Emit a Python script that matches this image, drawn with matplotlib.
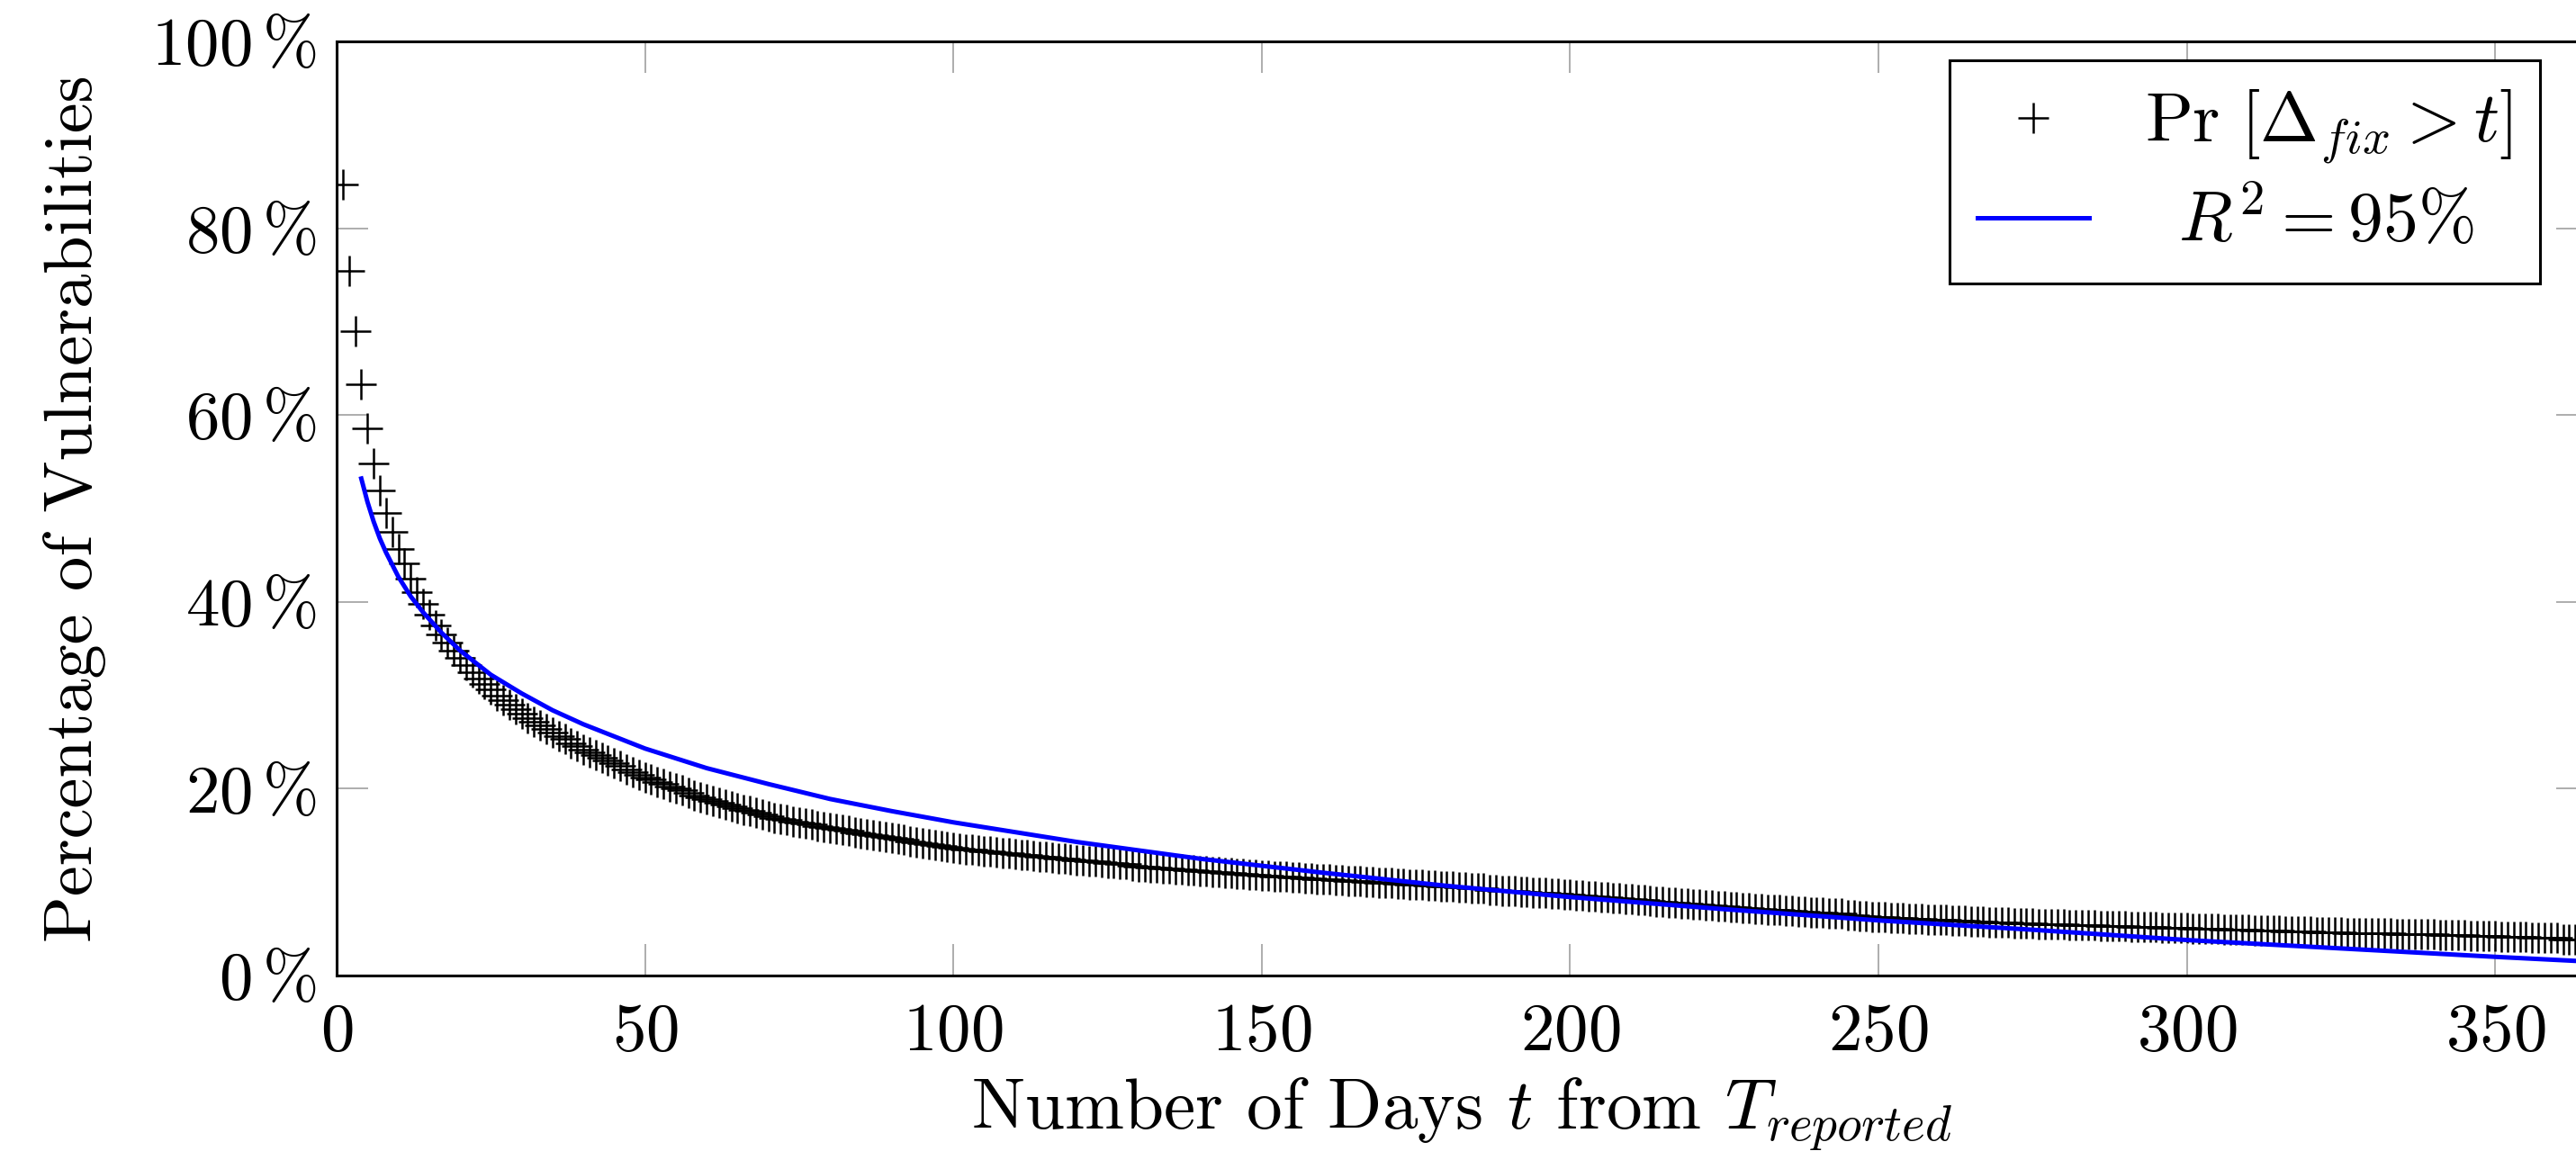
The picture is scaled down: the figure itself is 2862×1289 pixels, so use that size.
import numpy as np
import matplotlib
matplotlib.use('Agg')
import matplotlib.pyplot as plt

plt.rcParams['font.family'] = 'serif'
plt.rcParams['font.serif'] = ['cmr10']
plt.rcParams['mathtext.fontset'] = 'cm'
plt.rcParams['axes.unicode_minus'] = False

# days since report (1..365)
days = list(range(1, 366))

# Pr[delta_fix > t], in percent
pct_open = [
    84.7, 75.4, 69.0, 63.3, 58.6, 54.8, 51.9, 49.5, 47.5, 45.7,
    44.1, 42.5, 41.0, 39.8, 38.6, 37.5, 36.5, 35.6, 34.8, 34.0,
    33.2, 32.5, 31.8, 31.2, 30.6, 30.0, 29.5, 29.0, 28.5, 28.0,
    27.6, 27.2, 26.8, 26.4, 26.0, 25.6, 25.3, 24.9, 24.6, 24.2,
    23.9, 23.6, 23.3, 23.0, 22.7, 22.4, 22.1, 21.8, 21.5, 21.2,
    21.0, 20.7, 20.5, 20.2, 20.0, 19.8, 19.6, 19.3, 19.1, 18.9,
    18.7, 18.5, 18.3, 18.1, 17.9, 17.7, 17.6, 17.4, 17.2, 17.1,
    16.9, 16.8, 16.7, 16.5, 16.4, 16.3, 16.2, 16.0, 15.9, 15.8,
    15.7, 15.6, 15.5, 15.3, 15.2, 15.1, 15.0, 14.9, 14.8, 14.7,
    14.6, 14.5, 14.4, 14.3, 14.2, 14.1, 14.0, 13.9, 13.8, 13.7,
    13.6, 13.5, 13.5, 13.4, 13.3, 13.3, 13.2, 13.1, 13.1, 13.0,
    12.9, 12.9, 12.8, 12.7, 12.7, 12.6, 12.5, 12.5, 12.4, 12.3,
    12.3, 12.2, 12.2, 12.1, 12.0, 12.0, 11.9, 11.9, 11.8, 11.7,
    11.7, 11.6, 11.6, 11.5, 11.5, 11.4, 11.4, 11.3, 11.3, 11.2,
    11.2, 11.1, 11.1, 11.0, 11.0, 10.9, 10.9, 10.8, 10.8, 10.7,
    10.7, 10.6, 10.6, 10.6, 10.5, 10.5, 10.4, 10.4, 10.3, 10.3,
    10.3, 10.2, 10.2, 10.1, 10.1, 10.1, 10.0, 10.0, 9.9, 9.9,
    9.9, 9.8, 9.8, 9.7, 9.7, 9.7, 9.6, 9.6, 9.5, 9.5,
    9.5, 9.4, 9.4, 9.3, 9.3, 9.3, 9.2, 9.2, 9.1, 9.1,
    9.1, 9.0, 9.0, 8.9, 8.9, 8.9, 8.8, 8.8, 8.7, 8.7,
    8.6, 8.6, 8.5, 8.5, 8.4, 8.4, 8.3, 8.3, 8.2, 8.2,
    8.1, 8.1, 8.0, 7.9, 7.9, 7.8, 7.8, 7.7, 7.7, 7.6,
    7.6, 7.5, 7.5, 7.4, 7.4, 7.3, 7.3, 7.2, 7.2, 7.1,
    7.1, 7.0, 7.0, 7.0, 6.9, 6.9, 6.8, 6.8, 6.7, 6.7,
    6.7, 6.6, 6.6, 6.6, 6.5, 6.5, 6.4, 6.4, 6.3, 6.3,
    6.3, 6.2, 6.2, 6.2, 6.1, 6.1, 6.1, 6.0, 6.0, 6.0,
    6.0, 5.9, 5.9, 5.9, 5.8, 5.8, 5.8, 5.7, 5.7, 5.7,
    5.7, 5.6, 5.6, 5.6, 5.6, 5.5, 5.5, 5.5, 5.5, 5.5,
    5.4, 5.4, 5.4, 5.4, 5.4, 5.3, 5.3, 5.3, 5.3, 5.3,
    5.2, 5.2, 5.2, 5.2, 5.2, 5.1, 5.1, 5.1, 5.1, 5.1,
    5.0, 5.0, 5.0, 5.0, 5.0, 4.9, 4.9, 4.9, 4.9, 4.9,
    4.8, 4.8, 4.8, 4.8, 4.8, 4.7, 4.7, 4.7, 4.7, 4.7,
    4.6, 4.6, 4.6, 4.6, 4.6, 4.5, 4.5, 4.5, 4.5, 4.5,
    4.5, 4.5, 4.5, 4.4, 4.4, 4.4, 4.4, 4.4, 4.4, 4.4,
    4.3, 4.3, 4.3, 4.3, 4.3, 4.2, 4.2, 4.2, 4.2, 4.2,
    4.1, 4.1, 4.1, 4.1, 4.1, 4.0, 4.0, 4.0, 4.0, 4.0,
    3.9, 3.9, 3.9, 3.9, 3.9,
]

# fitted curve (blue)
fit_days = [4, 5, 6, 7, 8, 10, 12, 14, 17, 20, 25, 30, 35, 40, 50, 60,
            70, 80, 90, 100, 120, 140, 160, 180, 200, 225, 250, 275, 300,
            325, 350, 365]
fit_pct = [53.2, 50.7, 48.6, 46.8, 45.3, 42.7, 40.6, 38.9, 36.7, 34.8,
           32.2, 30.2, 28.4, 26.9, 24.3, 22.2, 20.5, 18.9, 17.6, 16.4,
           14.3, 12.5, 11.0, 9.6, 8.4, 7.1, 5.9, 4.9, 3.8, 2.9, 2.0, 1.5]

xticks = [0, 50, 100, 150, 200, 250, 300, 350]
yticks = [0, 20, 40, 60, 80, 100]

W, H = 2862, 1289
fig = plt.figure(figsize=(W / 200, H / 200), dpi=200)
ax = fig.add_axes([374 / W, (H - 1084) / H, (2875 - 374) / W, (1084 - 46) / H])

ax.plot(days, pct_open, linestyle='none', marker='+', color='black',
        markersize=12, markeredgewidth=0.9,
        label=r'$\Pr\,[\mathit{\Delta}_{fix} > t]$')
ax.plot(fit_days, fit_pct, color='#0000ff', linewidth=1.8,
        label=r'$\;\;R^2 = 95\%$')

ax.set_xlim(0, 365)
ax.set_ylim(0, 100)
ax.set_xticks(xticks)
ax.set_xticklabels(['$%d$' % v for v in xticks])
ax.set_yticks(yticks)
ax.set_yticklabels([r'$%d\,\%%$' % v for v in yticks])

ax.tick_params(direction='in', length=12.5, width=0.6, color='#a0a0a0',
               top=True, right=True, labelsize=27)
ax.tick_params(axis='x', pad=11)
ax.tick_params(axis='y', pad=8)
for sp in ax.spines.values():
    sp.set_linewidth(1.1)

ax.set_xlabel(r'Number of Days $t$ from $T_{reported}$', fontsize=28.5, labelpad=5)
ax.set_ylabel('Percentage of Vulnerabilities', fontsize=27.5, labelpad=18)

leg = ax.legend(loc='upper right', bbox_to_anchor=(2822 / W, 1 - 67 / H),
                bbox_transform=fig.transFigure, borderaxespad=0,
                fancybox=False, edgecolor='black', framealpha=1,
                fontsize=28, handlelength=1.6, handletextpad=0.8,
                borderpad=0.4, labelspacing=0.3)
leg.get_frame().set_linewidth(1.1)

fig.savefig('out.png', dpi=200)
